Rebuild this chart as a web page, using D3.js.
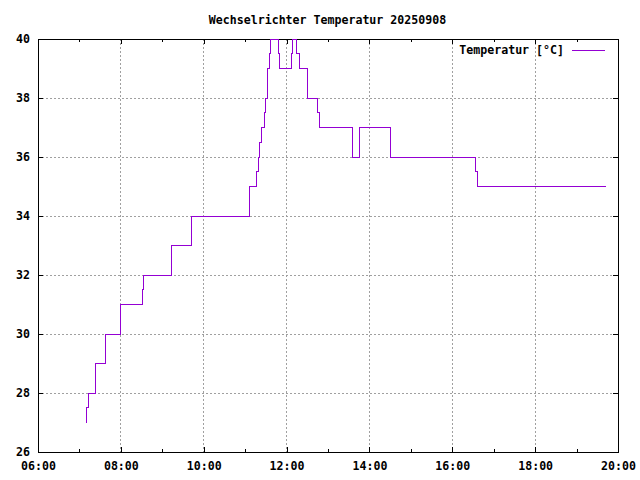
<!DOCTYPE html>
<html>
<head>
<meta charset="utf-8">
<script src="https://cdn.jsdelivr.net/npm/d3@7"></script>
<style>
  body { margin: 0; background: #fff; }
  text { font-family: "DejaVu Sans Mono", monospace; font-weight: bold; font-size: 11.6px; fill: #000; }
</style>
</head>
<body>
<div id="container"></div>
<script>
// Wechselrichter Temperatur 20250908 (step data)
var times = ["07:09", "07:10", "07:13", "07:23", "07:38", "07:59", "08:00", "08:32", "08:33",
  "09:13", "09:14", "09:42", "11:06", "11:17", "11:19", "11:21", "11:23", "11:28", "11:30",
  "11:32", "11:35", "11:36", "11:49", "11:50", "12:07", "12:08", "12:15", "12:19", "12:30",
  "12:31", "12:45", "12:47", "13:35", "13:36", "13:45", "13:46", "14:30", "14:31", "16:34",
  "16:36", "19:43"];
var temps = [27, 27.5, 28, 29, 30, 30.5, 31, 31.5, 32,
  32.5, 33, 34, 35, 35.5, 36, 36.5, 37, 37.5, 38,
  39, 39.5, 40, 39.5, 39, 39.5, 40, 39.5, 39, 38.5,
  38, 37.5, 37, 36.5, 36, 36.5, 37, 36.5, 36, 35.5,
  35, 35];
var xTickLabels = ["06:00", "08:00", "10:00", "12:00", "14:00", "16:00", "18:00", "20:00"];
var yTicks = [26, 28, 30, 32, 34, 36, 38, 40];
var title = "Wechselrichter Temperatur 20250908";
var seriesName = "Temperatur [°C]";

var width = 640;
var height = 480;
var pLeft = 38, pRight = 618, pTop = 39, pBottom = 452;

var parse = d3.timeParse("%H:%M");
var data = times.map(function(t, i) {
  return { t: parse(t), v: temps[i] };
});

var svg = d3.select("#container").append("svg")
  .attr("width", width).attr("height", height);

var x = d3.scaleTime()
  .domain([parse(xTickLabels[0]), parse(xTickLabels[xTickLabels.length - 1])])
  .range([pLeft, pRight]);
var y = d3.scaleLinear()
  .domain([yTicks[0], yTicks[yTicks.length - 1]])
  .range([pBottom, pTop]);

var majorX = xTickLabels.map(parse);
var minorX = x.ticks(d3.timeHour.every(1));

// grid
var grid = svg.append("g")
  .attr("stroke", "#a0a0a0")
  .attr("stroke-dasharray", "2,2")
  .attr("shape-rendering", "crispEdges");
grid.selectAll(".gx")
  .data(majorX.slice(1, -1)).enter().append("line")
  .attr("x1", function(d) { return x(d); })
  .attr("x2", function(d) { return x(d); })
  .attr("y1", pTop).attr("y2", pBottom);
grid.selectAll(".gy")
  .data(yTicks.slice(1, -1)).enter().append("line")
  .attr("x1", pLeft).attr("x2", pRight)
  .attr("y1", function(d) { return y(d); })
  .attr("y2", function(d) { return y(d); });

// axes with mirrored inward ticks
var fmt = d3.timeFormat("%H:%M");
function noDomain(g) { g.select(".domain").remove(); }

svg.append("g")
  .attr("transform", "translate(0," + pBottom + ")")
  .call(d3.axisTop(x).tickValues(minorX).tickSize(3).tickFormat(""))
  .call(noDomain);
svg.append("g")
  .attr("transform", "translate(0," + pTop + ")")
  .call(d3.axisBottom(x).tickValues(minorX).tickSize(3).tickFormat(""))
  .call(noDomain);

var xAxis = svg.append("g")
  .attr("transform", "translate(0," + pBottom + ")")
  .call(d3.axisTop(x).tickValues(majorX).tickSize(5).tickFormat(fmt))
  .call(noDomain);
xAxis.selectAll("text")
  .attr("y", 14)
  .attr("dy", "0.32em");
svg.append("g")
  .attr("transform", "translate(0," + pTop + ")")
  .call(d3.axisBottom(x).tickValues(majorX).tickSize(5).tickFormat(""))
  .call(noDomain);

var yAxis = svg.append("g")
  .attr("transform", "translate(" + pLeft + ",0)")
  .call(d3.axisRight(y).tickValues(yTicks).tickSize(5).tickFormat(d3.format("d")))
  .call(noDomain);
yAxis.selectAll("text")
  .attr("x", -8)
  .attr("text-anchor", "end");
svg.append("g")
  .attr("transform", "translate(" + pRight + ",0)")
  .call(d3.axisLeft(y).tickValues(yTicks).tickSize(5).tickFormat(""))
  .call(noDomain);

svg.selectAll(".tick line")
  .attr("stroke", "#000")
  .attr("shape-rendering", "crispEdges");
svg.selectAll(".tick text")
  .attr("fill", "#000")
  .style("font-family", "DejaVu Sans Mono, monospace")
  .style("font-size", "11.6px")
  .style("font-weight", "bold");

// border
svg.append("rect")
  .attr("x", pLeft).attr("y", pTop)
  .attr("width", pRight - pLeft).attr("height", pBottom - pTop)
  .attr("fill", "none")
  .attr("stroke", "#000")
  .attr("shape-rendering", "crispEdges");

// the series
var line = d3.line()
  .x(function(d) { return x(d.t); })
  .y(function(d) { return y(d.v); })
  .curve(d3.curveStepAfter);

svg.append("path")
  .datum(data)
  .attr("fill", "none")
  .attr("stroke", "#9400d3")
  .attr("stroke-width", 1)
  .attr("shape-rendering", "crispEdges")
  .attr("d", line);

// title
svg.append("text")
  .attr("x", 327.5).attr("y", 24)
  .attr("text-anchor", "middle")
  .text(title);

// legend
svg.append("text")
  .attr("x", 564).attr("y", 54)
  .attr("text-anchor", "end")
  .text(seriesName);
svg.append("line")
  .attr("x1", 572).attr("x2", 605)
  .attr("y1", 50).attr("y2", 50)
  .attr("stroke", "#9400d3")
  .attr("shape-rendering", "crispEdges");
</script>
</body>
</html>
